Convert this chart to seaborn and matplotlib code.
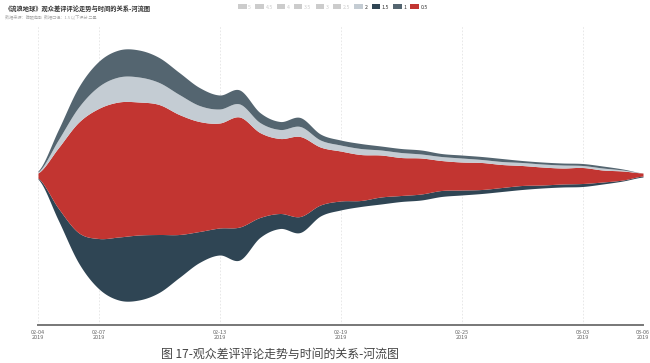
import numpy as np
import pandas as pd
import matplotlib
matplotlib.use("Agg")
import matplotlib.pyplot as plt
import seaborn as sns
from matplotlib.patches import Patch

# ---------------- data ----------------
dates = pd.date_range("2019-02-04", periods=31, freq="D")
series_names = ["1.5", "0.5", "2", "1"]          # stacking order, bottom -> top
v_15 = [1, 12, 30, 50, 63, 65, 58, 43, 31, 27, 33, 20, 15, 16, 11, 9, 6, 7, 6, 6, 6, 5, 4, 4, 4, 3, 3, 3, 2, 1, 1]
v_05 = [5, 60, 110, 130, 135, 133, 130, 120, 110, 105, 110, 85, 75, 80, 58, 50, 46, 42, 38, 36, 30, 28, 27, 23, 20, 18, 16, 16, 12, 9, 3]
v_2 = [1, 8, 15, 22, 25, 25, 22, 20, 16, 14, 13, 10, 9, 10, 7, 6, 6, 5, 5, 4, 4, 4, 3, 3, 3, 3, 3, 2, 2, 1, 0]
v_1 = [1, 10, 20, 25, 27, 27, 25, 22, 18, 14, 14, 10, 8, 9, 6, 5, 5, 4, 4, 4, 3, 3, 3, 3, 2, 2, 2, 2, 2, 1, 0]
legend_labels = ["5", "4.5", "4", "3.5", "3", "2.5", "2", "1.5", "1", "0.5"]
tick_dates = ["02-04", "02-07", "02-13", "02-19", "02-25", "03-03", "03-06"]

colors = {"1.5": "#2f4554", "0.5": "#c23531", "2": "#c4ccd3", "1": "#546570"}

sns.set_theme(style="white")
plt.rcParams["font.family"] = ["Noto Sans CJK SC", "DejaVu Sans"]

df = pd.DataFrame({"date": dates, "1.5": v_15, "0.5": v_05, "2": v_2, "1": v_1})
day = (df["date"] - df["date"].iloc[0]).dt.days.to_numpy().astype(float)


def catmull(y, n=20):
    """Smooth rendering of a curve (like echarts' themeRiver), per segment."""
    y = np.asarray(y, float)
    p = np.concatenate([[y[0]], y, [y[-1]]])
    xs, ys = [], []
    for i in range(len(y) - 1):
        p0, p1, p2, p3 = p[i], p[i + 1], p[i + 2], p[i + 3]
        t = np.linspace(0, 1, n, endpoint=False)
        yy = 0.5 * (2 * p1 + (-p0 + p2) * t + (2 * p0 - 5 * p1 + 4 * p2 - p3) * t ** 2
                    + (-p0 + 3 * p1 - 3 * p2 + p3) * t ** 3)
        xs.append(day[i] + t)
        ys.append(yy)
    xs.append([day[-1]])
    ys.append([y[-1]])
    return np.concatenate(xs), np.clip(np.concatenate(ys), 0, None)


fig = plt.figure(figsize=(6.5, 3.63), dpi=100)
ax = fig.add_axes([38 / 650, 38 / 363, 605 / 650, 300 / 363])

layers = []
for name in series_names:
    xs, ys = catmull(df[name].to_numpy())
    layers.append(ys)
total = np.sum(layers, axis=0)
base = -total / 2
for name, ys in zip(series_names, layers):
    ax.fill_between(xs, base, base + ys, color=colors[name], linewidth=0, zorder=2)
    base = base + ys

ax.set_xlim(0, 30)
ax.set_ylim(-150, 150)
tick_pos = [0, 3, 9, 15, 21, 27, 30]
ax.set_xticks(tick_pos)
ax.set_xticklabels([f"{t}\n2019" for t in tick_dates], fontsize=4, color="#666666", linespacing=1.1)
ax.set_yticks([])
for tp in tick_pos:
    ax.axvline(tp, color="#e4e4e4", lw=0.6, ls=(0, (2, 2)), zorder=0)
for s in ["top", "left", "right"]:
    ax.spines[s].set_visible(False)
ax.spines["bottom"].set_color("#777777")
ax.spines["bottom"].set_linewidth(1.4)
ax.tick_params(axis="x", length=2, width=0.5, color="#777777", pad=1.5)
ax.patch.set_alpha(0)

fig.text(5 / 650, 1 - 8 / 363, "《流浪地球》观众差评评论走势与时间的关系-河流图", fontsize=4.5,
         color="#333333", weight="bold", va="center")
fig.text(5 / 650, 1 - 17 / 363, "数据来源：猫眼电影  数据口径：1.5 以下评分 二星", fontsize=3.0,
         color="#aaaaaa", va="center")

handles = []
for lab in legend_labels:
    c = colors.get(lab, "#cccccc")
    handles.append(Patch(facecolor=c, edgecolor="none", label=lab))
leg = fig.legend(handles=handles, loc="center", bbox_to_anchor=(333 / 650, 1 - 7 / 363), ncol=10,
                 fontsize=3.8, frameon=False, handlelength=1.6, handleheight=0.9,
                 handletextpad=0.3, columnspacing=0.8)
for txt, lab in zip(leg.get_texts(), legend_labels):
    txt.set_color("#333333" if lab in colors else "#cccccc")

fig.text(280 / 650, 1 - 354 / 363, "图 17-观众差评评论走势与时间的关系-河流图", fontsize=8.6,
         color="#444444", ha="center", va="center")

fig.savefig("out.png", dpi=100, facecolor="white")
